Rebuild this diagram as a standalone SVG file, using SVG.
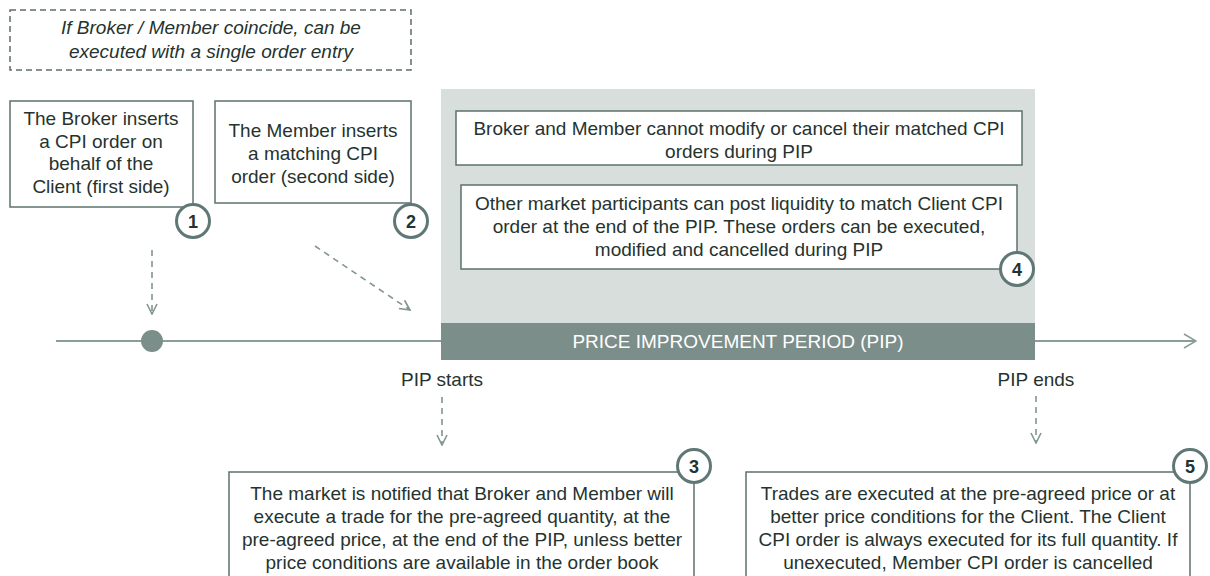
<svg xmlns="http://www.w3.org/2000/svg" width="1210" height="576" viewBox="0 0 1210 576">
<defs>
<style>
.t{font-family:"Liberation Sans",Arial,sans-serif;font-size:19px;fill:#25332f;text-anchor:middle}
.it{font-style:italic}
.box{fill:#fff;stroke:#5b726e;stroke-width:1.5}
.num{font-family:"Liberation Sans",Arial,sans-serif;font-size:18px;font-weight:bold;fill:#25332f;text-anchor:middle}
.circ{fill:#fff;stroke:#5f7875;stroke-width:3}
.dash{fill:none;stroke:#819692;stroke-width:1.6;stroke-dasharray:6,5}
</style>
<marker id="open" viewBox="0 0 12 12" refX="11" refY="6" markerWidth="12" markerHeight="12" markerUnits="userSpaceOnUse" orient="auto">
<path d="M1,1 L11,6 L1,11" fill="none" stroke="#819692" stroke-width="1.6"/>
</marker>
<marker id="tl" viewBox="0 0 14 16" refX="13" refY="8" markerWidth="14" markerHeight="16" markerUnits="userSpaceOnUse" orient="auto">
<path d="M1,1 L13,8 L1,15" fill="none" stroke="#8a9d99" stroke-width="1.6"/>
</marker>
</defs>

<g id="pip-background">
<rect x="441" y="89" width="594" height="234" fill="#d8dedc"/>
</g>

<g id="connectors">
<line x1="56" y1="341" x2="1196" y2="341" stroke="#8a9d99" stroke-width="2" marker-end="url(#tl)"/>
<line class="dash" x1="152" y1="250" x2="152" y2="314" marker-end="url(#open)"/>
<line class="dash" x1="315" y1="246" x2="410" y2="310" marker-end="url(#open)"/>
<line class="dash" x1="442" y1="397" x2="442" y2="445" marker-end="url(#open)"/>
<line class="dash" x1="1036" y1="396" x2="1036" y2="443" marker-end="url(#open)"/>
</g>

<g id="pip-bar">
<rect x="441" y="323" width="594" height="37" fill="#7b8e8a"/>
<text class="t" x="738" y="348" style="fill:#fff">PRICE IMPROVEMENT  PERIOD (PIP)</text>
</g>

<g id="dot">
<circle cx="152" cy="341" r="11" fill="#7b8e8a"/>
</g>

<g id="note">
<rect x="10" y="10" width="401" height="60" fill="none" stroke="#5f6e6b" stroke-width="1.5" stroke-dasharray="6,4"/>
<text class="t it" x="211" y="34">If Broker / Member coincide, can be</text>
<text class="t it" x="211" y="58">executed with a single order entry</text>
</g>

<g id="step1">
<rect class="box" x="10" y="101" width="183" height="106"/>
<text class="t" x="101" y="125">The Broker inserts</text>
<text class="t" x="101" y="148">a CPI order on</text>
<text class="t" x="101" y="170">behalf of  the</text>
<text class="t" x="101" y="193">Client (first side)</text>
<circle class="circ" cx="193" cy="221" r="16.5"/>
<text class="num" x="193" y="227.5">1</text>
</g>

<g id="step2">
<rect class="box" x="215" y="101" width="196" height="102"/>
<text class="t" x="313" y="137">The Member inserts</text>
<text class="t" x="313" y="160">a matching  CPI</text>
<text class="t" x="313" y="183">order (second side)</text>
<circle class="circ" cx="411" cy="221" r="16.5"/>
<text class="num" x="411" y="227.5">2</text>
</g>

<g id="pip-rule">
<rect class="box" x="456" y="111" width="566" height="54"/>
<text class="t" x="739" y="135">Broker and Member cannot modify or cancel their matched CPI</text>
<text class="t" x="739" y="158">orders during PIP</text>
</g>

<g id="step4">
<rect class="box" x="461" y="185" width="556" height="84"/>
<text class="t" x="739" y="210">Other market participants can post liquidity to match Client CPI</text>
<text class="t" x="739" y="233">order at the end of the PIP. These orders can be executed,</text>
<text class="t" x="739" y="256">modified and cancelled during PIP</text>
<circle class="circ" cx="1017" cy="269" r="16.5"/>
<text class="num" x="1017" y="275.5">4</text>
</g>

<g id="pip-starts">
<text class="t" x="442" y="386">PIP starts</text>
</g>
<g id="pip-ends">
<text class="t" x="1036" y="386">PIP ends</text>
</g>

<g id="step3">
<rect class="box" x="229" y="472" width="465" height="120"/>
<text class="t" x="462" y="500">The market is notified that Broker and Member will</text>
<text class="t" x="462" y="523">execute a trade for the pre-agreed quantity, at the</text>
<text class="t" x="462" y="546">pre-agreed price, at the end of the PIP, unless better</text>
<text class="t" x="462" y="569">price conditions are available in the order book</text>
<circle class="circ" cx="694" cy="466" r="16.5"/>
<text class="num" x="694" y="472.5">3</text>
</g>

<g id="step5">
<rect class="box" x="746" y="472" width="444" height="120"/>
<text class="t" x="968" y="500">Trades are executed at the pre-agreed price or at</text>
<text class="t" x="968" y="523">better price conditions for the Client. The  Client</text>
<text class="t" x="968" y="546">CPI order is always executed for its full quantity. If</text>
<text class="t" x="968" y="569">unexecuted, Member CPI order is cancelled</text>
<circle class="circ" cx="1190" cy="466" r="16.5"/>
<text class="num" x="1190" y="472.5">5</text>
</g>
</svg>
